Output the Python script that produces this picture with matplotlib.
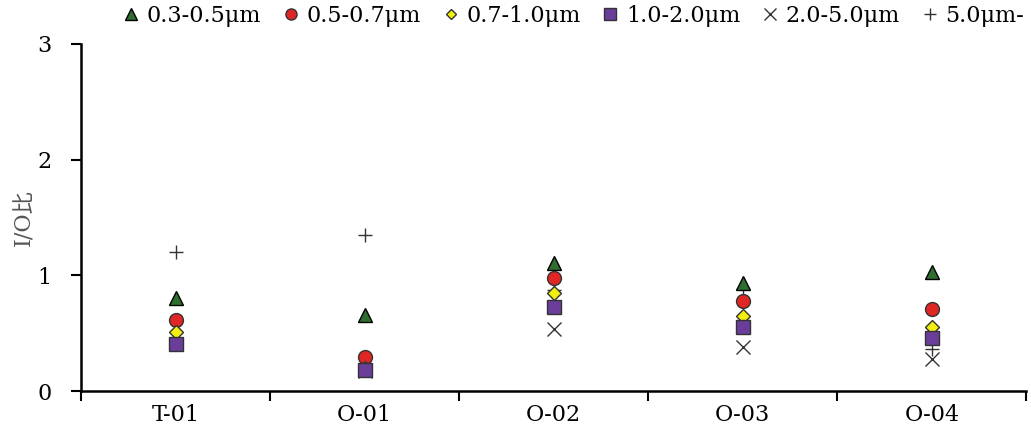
import matplotlib.pyplot as plt
import numpy as np

plt.rcParams['font.family'] = ['DejaVu Serif', 'Noto Sans CJK JP']

# 地点と粒径ごとの I/O 比
sites = ['T-01', 'O-01', 'O-02', 'O-03', 'O-04']
sizes = ['0.3-0.5μm', '0.5-0.7μm', '0.7-1.0μm', '1.0-2.0μm', '2.0-5.0μm', '5.0μm-']
io_03_05 = [0.80, 0.66, 1.11, 0.93, 1.03]
io_05_07 = [0.61, 0.29, 0.98, 0.78, 0.71]
io_07_10 = [0.51, 0.20, 0.85, 0.65, 0.55]
io_10_20 = [0.41, 0.18, 0.73, 0.55, 0.46]
io_20_50 = [0.41, 0.17, 0.54, 0.38, 0.28]
io_50 = [1.20, 1.35, 0.87, 0.88, 0.36]

series = [io_03_05, io_05_07, io_07_10, io_10_20, io_20_50, io_50]
styles = [
    dict(marker='^', color='#2f6e2f', mec='black', ms=10),
    dict(marker='o', color='#e02525', mec='#333333', ms=10),
    dict(marker='D', color='#f2ef10', mec='#333333', ms=7),
    dict(marker='s', color='#6a3d9a', mec='#333333', ms=10),
    dict(marker='x', color='#333333', ms=10, mew=1),
    dict(marker='+', color='#333333', ms=10, mew=1),
]

fig = plt.figure(figsize=(10.31, 4.36), dpi=100)
ax = fig.add_axes([0.0786, 0.1032, 0.917, 0.796])

x = np.arange(len(sites))
# 描画順: 後ろのものから
order = [5, 4, 0, 1, 2, 3]
handles = [None] * 6
for i in order:
    h, = ax.plot(x, series[i], ls='none', label=sizes[i], **styles[i])
    handles[i] = h

ax.set_xlim(-0.5, len(sites) - 0.5)
ax.set_ylim(0, 3)
ax.set_yticks([0, 1, 2, 3])
ax.set_xticks(x)
ax.set_xticklabels(sites)
ax.set_xticks(np.arange(-0.5, len(sites)), minor=True)
ax.tick_params(axis='x', which='major', length=0, labelsize=16, pad=9)
ax.tick_params(axis='x', which='minor', length=7, width=1.5, direction='out')
ax.tick_params(axis='y', length=7, width=1.5, direction='out', labelsize=16, pad=14)

for s in ['top', 'right']:
    ax.spines[s].set_visible(False)
for s in ['left', 'bottom']:
    ax.spines[s].set_linewidth(1.8)

ax.set_ylabel('I/O比', fontsize=16, color='#555555', labelpad=2)

leg = fig.legend(handles=handles, loc='center left',
                 bbox_to_anchor=(122 / 1031, 1 - 16 / 436),
                 ncol=6, frameon=False, fontsize=16, handlelength=0.8,
                 handletextpad=0.3, columnspacing=0.95, markerscale=0.8,
                 borderaxespad=0, borderpad=0)

plt.savefig('out.png', dpi=100)
